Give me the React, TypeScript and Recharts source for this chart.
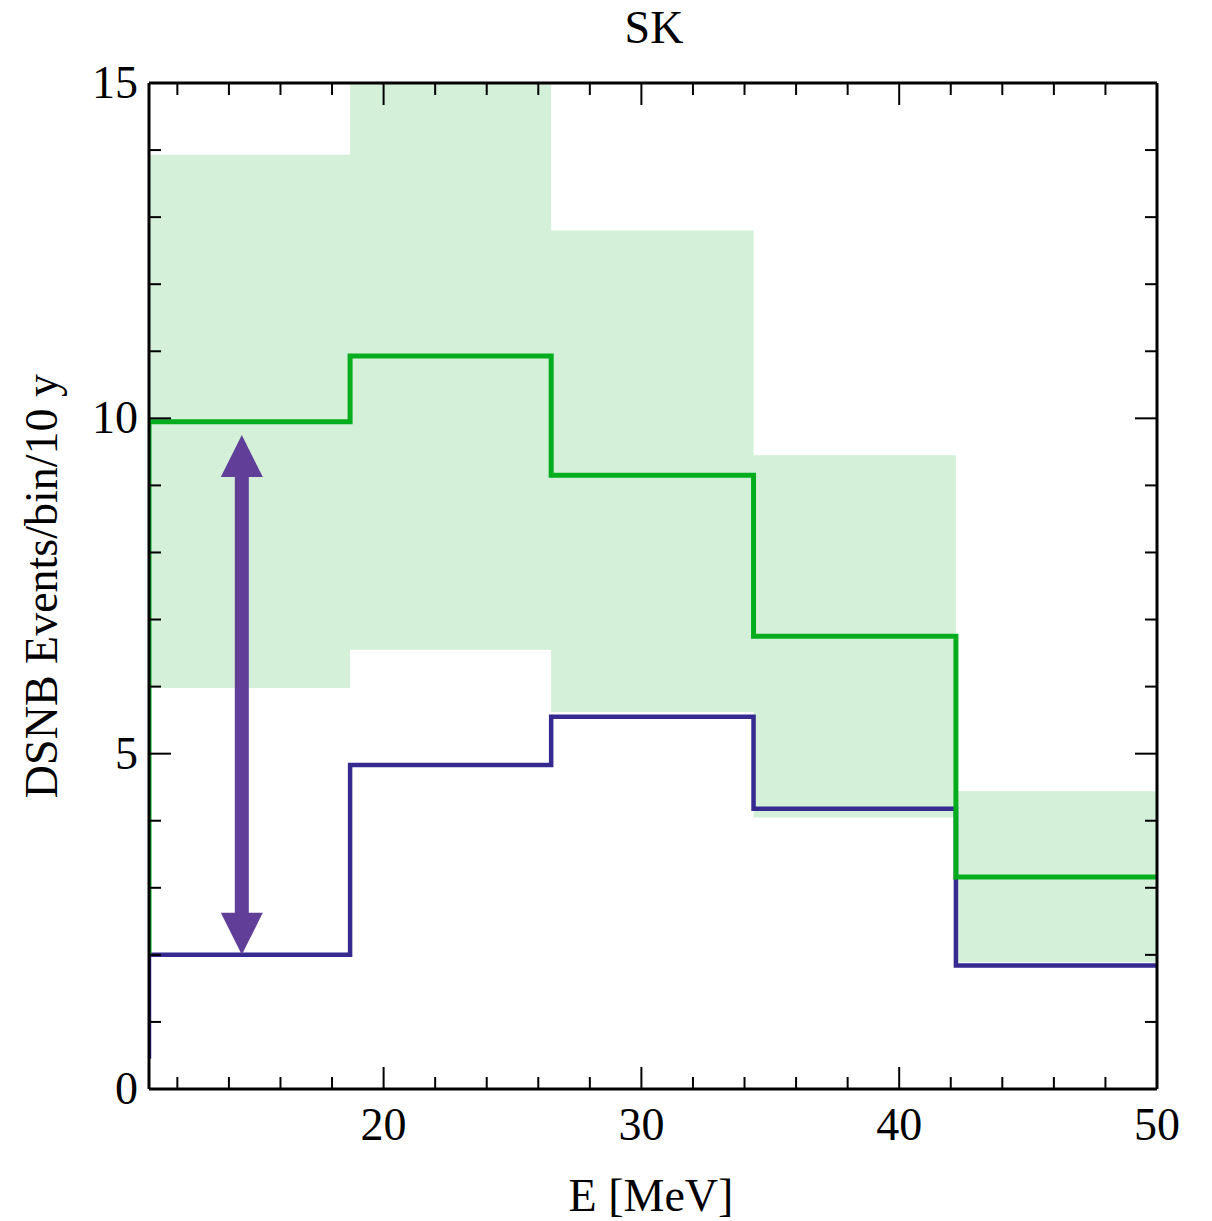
import {
  ComposedChart,
  Area,
  Line,
  XAxis,
  YAxis,
  ReferenceLine,
} from "recharts";

// bin edges in MeV
const EDGES = [10.9, 18.7, 26.5, 34.35, 42.2, 50];
// per-bin event counts
const GREEN = [9.95, 10.93, 9.15, 6.75, 3.16];
const BLUE = [2.0, 4.83, 5.55, 4.18, 1.84];
const BAND_LOW = [5.98, 6.55, 5.62, 4.05, 1.89];
const BAND_HIGH = [13.93, 15, 12.8, 9.45, 4.44];
// where the step lines start at the left edge
const GREEN_START = 2.0;
const BLUE_START = 0.45;

const X_TICKS = [12, 14, 16, 18, 20, 22, 24, 26, 28, 30, 32, 34, 36, 38, 40, 42, 44, 46, 48, 50];
const X_MAJOR = [20, 30, 40, 50];
const Y_TICKS = [0, 1, 2, 3, 4, 5, 6, 7, 8, 9, 10, 11, 12, 13, 14, 15];
const Y_MAJOR = [0, 5, 10, 15];

const ARROW_X = 14.5;
const ARROW_LOW = 2.0;
const ARROW_HIGH = 9.75;

const FONT = "'Liberation Serif', 'Times New Roman', serif";
const GREEN_COLOR = "#04ad1e";
const BLUE_COLOR = "#36298f";
const BAND_COLOR = "#d4f0d8";
const ARROW_COLOR = "#613f99";

const W = 1212;
const H = 1221;

// step series: repeat last bin value at the right edge
const stepPoints = (vals: number[], start?: number) => {
  const pts = EDGES.map((e, i) => ({ e, v: vals[Math.min(i, vals.length - 1)] }));
  return start === undefined ? pts : [{ e: EDGES[0], v: start }, ...pts];
};

const greenData = stepPoints(GREEN, GREEN_START);
const blueData = stepPoints(BLUE, BLUE_START);
const bandData = EDGES.map((e, i) => {
  const k = Math.min(i, BAND_LOW.length - 1);
  return { e, range: [BAND_LOW[k], BAND_HIGH[k]] };
});

const tickLen = (major: boolean) => (major ? 22 : 12);

const BottomTick = (props: any) => {
  const { x, y, payload } = props;
  const major = X_MAJOR.includes(payload.value);
  return (
    <g>
      <line x1={x} y1={y} x2={x} y2={y - tickLen(major)} stroke="#000" strokeWidth={2} />
      {major && (
        <text x={x} y={y + 51} textAnchor="middle" fontSize={46} fontFamily={FONT} fill="#000">
          {payload.value}
        </text>
      )}
    </g>
  );
};

const TopTick = (props: any) => {
  const { x, y, payload } = props;
  const major = X_MAJOR.includes(payload.value);
  return <line x1={x} y1={y} x2={x} y2={y + tickLen(major)} stroke="#000" strokeWidth={2} />;
};

const LeftTick = (props: any) => {
  const { x, y, payload } = props;
  const major = Y_MAJOR.includes(payload.value);
  return (
    <g>
      <line x1={x} y1={y} x2={x + tickLen(major)} y2={y} stroke="#000" strokeWidth={2} />
      {major && (
        <text x={x - 11} y={y + 15} textAnchor="end" fontSize={46} fontFamily={FONT} fill="#000">
          {payload.value}
        </text>
      )}
    </g>
  );
};

const RightTick = (props: any) => {
  const { x, y, payload } = props;
  const major = Y_MAJOR.includes(payload.value);
  return <line x1={x} y1={y} x2={x - tickLen(major)} y2={y} stroke="#000" strokeWidth={2} />;
};

const ArrowShape = (p: any) => {
  const { x1, y1, y2 } = p;
  const top = Math.min(y1, y2);
  const bot = Math.max(y1, y2);
  const head = 42;
  const half = 21;
  return (
    <g fill={ARROW_COLOR} stroke="none">
      <rect x={x1 - 7} y={top + head - 1} width={14} height={bot - top - 2 * head + 2} />
      <polygon points={`${x1},${top} ${x1 - half},${top + head} ${x1 + half},${top + head}`} />
      <polygon points={`${x1},${bot} ${x1 - half},${bot - head} ${x1 + half},${bot - head}`} />
    </g>
  );
};

export default function App() {
  const axisLine = { stroke: "#000", strokeWidth: 3 };
  return (
    <div style={{ position: "absolute", left: 0, top: 0, width: W, height: H, background: "#fff" }}>
      <ComposedChart width={W} height={H} margin={{ top: 82, right: 54, bottom: 32, left: 49 }}>
        <XAxis
          xAxisId="b"
          type="number"
          dataKey="e"
          domain={[EDGES[0], 50]}
          ticks={X_TICKS}
          interval={0}
          height={100}
          tickSize={0}
          tickMargin={0}
          tickLine={false}
          axisLine={axisLine}
          tick={BottomTick}
          allowDataOverflow
        />
        <XAxis
          xAxisId="t"
          orientation="top"
          type="number"
          dataKey="e"
          domain={[EDGES[0], 50]}
          ticks={X_TICKS}
          interval={0}
          height={1}
          tickSize={0}
          tickMargin={0}
          tickLine={false}
          axisLine={axisLine}
          tick={TopTick}
          allowDataOverflow
        />
        <YAxis
          yAxisId="l"
          type="number"
          domain={[0, 15]}
          ticks={Y_TICKS}
          interval={0}
          width={100}
          tickSize={0}
          tickMargin={0}
          tickLine={false}
          axisLine={axisLine}
          tick={LeftTick}
          allowDataOverflow
        />
        <YAxis
          yAxisId="r"
          orientation="right"
          type="number"
          domain={[0, 15]}
          ticks={Y_TICKS}
          interval={0}
          width={1}
          tickSize={0}
          tickMargin={0}
          tickLine={false}
          axisLine={axisLine}
          tick={RightTick}
          allowDataOverflow
        />
        <Area
          xAxisId="b"
          yAxisId="l"
          data={bandData}
          dataKey="range"
          type="stepAfter"
          fill={BAND_COLOR}
          fillOpacity={1}
          stroke="none"
          isAnimationActive={false}
          dot={false}
          activeDot={false}
        />
        <Line
          xAxisId="b"
          yAxisId="l"
          data={blueData}
          dataKey="v"
          type="stepAfter"
          stroke={BLUE_COLOR}
          strokeWidth={4.5}
          dot={false}
          activeDot={false}
          isAnimationActive={false}
        />
        <Line
          xAxisId="b"
          yAxisId="l"
          data={greenData}
          dataKey="v"
          type="stepAfter"
          stroke={GREEN_COLOR}
          strokeWidth={5}
          dot={false}
          activeDot={false}
          isAnimationActive={false}
        />
        <ReferenceLine
          xAxisId="b"
          yAxisId="l"
          segment={[
            { x: ARROW_X, y: ARROW_LOW },
            { x: ARROW_X, y: ARROW_HIGH },
          ]}
          shape={ArrowShape}
        />
      </ComposedChart>
      <svg
        width={W}
        height={H}
        style={{ position: "absolute", left: 0, top: 0, pointerEvents: "none" }}
      >
        <text x={654} y={43} textAnchor="middle" fontSize={46} fontFamily={FONT} fill="#000">
          SK
        </text>
        <text x={651} y={1211} textAnchor="middle" fontSize={46} fontFamily={FONT} fill="#000">
          E [MeV]
        </text>
        <text
          x={57}
          y={586}
          transform="rotate(-90 57 586)"
          textAnchor="middle"
          fontSize={46}
          fontFamily={FONT}
          fill="#000"
        >
          DSNB Events/bin/10 y
        </text>
      </svg>
    </div>
  );
}
